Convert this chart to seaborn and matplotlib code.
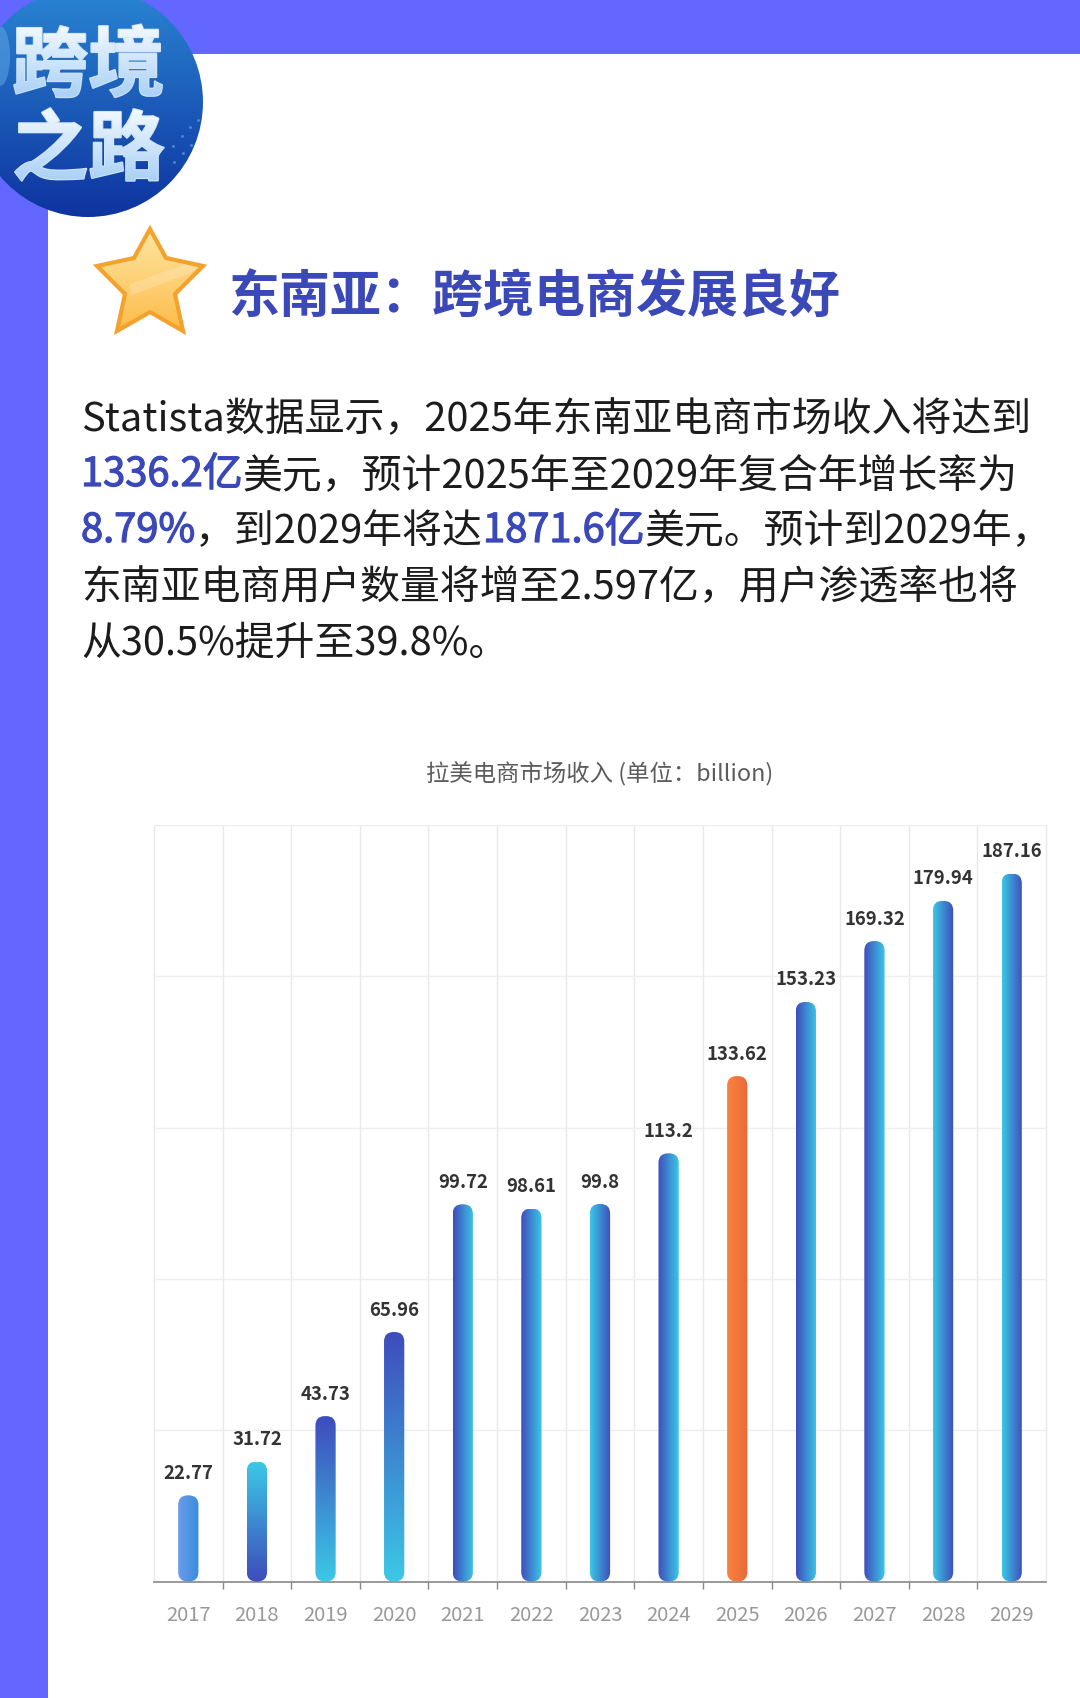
import numpy as np
import pandas as pd
import seaborn as sns
import matplotlib.pyplot as plt
import matplotlib.patheffects as pe
from matplotlib.colors import LinearSegmentedColormap
from matplotlib.font_manager import FontProperties
from matplotlib.patches import Circle, Ellipse, FancyBboxPatch, PathPatch, Polygon, Rectangle
from matplotlib.textpath import TextPath
from matplotlib.transforms import Affine2D

years = ["2017", "2018", "2019", "2020", "2021", "2022", "2023",
         "2024", "2025", "2026", "2027", "2028", "2029"]
revenue = [22.77, 31.72, 43.73, 65.96, 99.72, 98.61, 99.8,
           113.2, 133.62, 153.23, 169.32, 179.94, 187.16]
labels = ["22.77", "31.72", "43.73", "65.96", "99.72", "98.61", "99.8",
          "113.2", "133.62", "153.23", "169.32", "179.94", "187.16"]

chart_title = "拉美电商市场收入 (单位：billion)"
heading = "东南亚：跨境电商发展良好"
body = [
    [("Statista数据显示，2025年东南亚电商市场收入将达到", 0)],
    [("1336.2亿", 1), ("美元，预计2025年至2029年复合年增长率为", 0)],
    [("8.79%", 1), ("，到2029年将达", 0), ("1871.6亿", 1), ("美元。预计到2029年，", 0)],
    [("东南亚电商用户数量将增至2.597亿，用户渗透率也将", 0)],
    [("从30.5%提升至39.8%。", 0)],
]

DARK = "#3f4cbc"
CYAN = "#3bc8e6"
# (gradient direction, first colour, second colour) for each bar
bar_fill = [
    ("h", "#6b9cec", "#3a8cdb"), ("v", CYAN, DARK), ("v", DARK, CYAN), ("v", DARK, CYAN),
    ("h", DARK, CYAN), ("h", DARK, CYAN), ("h", CYAN, DARK), ("h", DARK, CYAN),
    ("h", "#fb8240", "#e96a38"), ("h", DARK, CYAN), ("h", DARK, CYAN),
    ("h", CYAN, DARK), ("h", CYAN, DARK),
]

PURPLE = "#6366ff"
TITLE_BLUE = "#3b48b8"
CJK = ["Noto Sans CJK SC", "DejaVu Sans"]

sns.set_theme(style="white")
plt.rcParams["font.family"] = CJK

W, H = 1080, 1699
fig = plt.figure(figsize=(W / 100, H / 100), dpi=100, facecolor="white")


def gradient(ax, extent, c0, c1, direction, clip, zorder=3):
    cmap = LinearSegmentedColormap.from_list("g", [c0, c1])
    ramp = np.linspace(0, 1, 128)
    ramp = ramp.reshape(1, -1) if direction == "h" else ramp.reshape(-1, 1)
    im = ax.imshow(ramp, extent=extent, origin="upper", aspect="auto", cmap=cmap,
                   vmin=0, vmax=1, zorder=zorder, interpolation="bilinear")
    im.set_clip_path(clip)
    return im


# page decoration, in pixels
bg = fig.add_axes([0, 0, 1, 1], zorder=0)
bg.set_xlim(0, W)
bg.set_ylim(H, 0)
bg.axis("off")
bg.add_patch(Rectangle((0, 0), W, 55, color=PURPLE, lw=0))
bg.add_patch(Rectangle((0, 0), 48, H, color=PURPLE, lw=0))

circle = Circle((88, 103), 115, fc="none", ec="none")
bg.add_patch(circle)
gradient(bg, (-30, 210, 220, -15), "#2a86d4", "#0e339f", "v", circle)
glow = Ellipse((0, 57), 20, 60, fc="#5b9fe0", ec="none", alpha=0.6, zorder=4)
bg.add_patch(glow)
glow.set_clip_path(circle)
bg.scatter([173, 182, 190, 198, 183, 191, 174], [147, 137, 128, 121, 154, 146, 163],
           s=5, color="#5fa8e8", alpha=0.6, lw=0, zorder=4)

# the badge text: real text with a pale vertical gradient laid on its own outline
badge_size = 55
badge_prop = FontProperties(family="Noto Sans CJK SC", weight="bold", size=badge_size)
for txt, base in [("跨境", 91), ("之路", 175)]:
    bg.text(12, base, txt, fontproperties=badge_prop, color="#cfe5fa", ha="left", va="baseline",
            zorder=5, path_effects=[pe.withStroke(linewidth=1.5, foreground="#cfe5fa")])
    outline = TextPath((0, 0), txt, size=badge_size * 100 / 72, prop=badge_prop)
    shape = PathPatch(outline, fc="none", ec="none",
                      transform=Affine2D().scale(1, -1).translate(12, base) + bg.transData)
    bg.add_patch(shape)
    gradient(bg, (0, 200, base + 8, base - 66), "#f4faff", "#a8d0f6", "v", shape, zorder=6)

star_pts = [(150, 230), (166, 259), (203, 267), (175, 295), (183, 332),
            (150, 313), (117, 332), (125, 295), (97, 267), (134, 259)]
star = Polygon(star_pts, closed=True, fc="none", ec="#f4a22e", lw=3, joinstyle="miter", zorder=7)
bg.add_patch(star)
gradient(bg, (95, 205, 333, 230), "#fde6a4", "#fdbb48", "v", star, zorder=6)
streak = Polygon([(130, 285), (195, 262), (195, 272), (130, 297)], closed=True,
                 fc="white", ec="none", alpha=0.2, zorder=6)
bg.add_patch(streak)
streak.set_clip_path(star)

bg.text(228, 297, heading, fontsize=36.7, fontweight="bold", color=TITLE_BLUE,
        ha="left", va="center")

# body text, runs placed one after another
renderer = fig.canvas.get_renderer()
for i, runs in enumerate(body):
    x = 81
    y = 420 + i * 56
    for txt, strong in runs:
        t = bg.text(x, y, txt, fontsize=28.7, va="center", ha="left",
                    color=TITLE_BLUE if strong else "#1c1c1c")
        if strong:
            t.set_path_effects([pe.withStroke(linewidth=0.9, foreground=TITLE_BLUE)])
        x = t.get_window_extent(renderer).x1

bg.text(600, 774, chart_title, fontsize=16.8, color="#5c5c5c", ha="center", va="center")

# the chart
ax = fig.add_axes([154 / W, 1 - 1582.5 / H, (1046 - 154) / W, (1582.5 - 826) / H], zorder=1)
ax.patch.set_alpha(0)
df = pd.DataFrame({"year": years, "revenue": revenue})
sns.barplot(data=df, x="year", y="revenue", width=0.295, color="white", ax=ax, zorder=3)

ax.set_xlim(-0.5, len(years) - 0.5)
ax.set_ylim(0, 200)
ax.set_xlabel("")
ax.set_ylabel("")
ax.set_yticks(np.arange(0, 201, 40))
ax.set_yticklabels([])
ax.set_xticks(np.arange(0.5, len(years) - 1), minor=True)
ax.grid(True, axis="y", color="#eeeeee", lw=1)
ax.grid(True, axis="x", which="minor", color="#e9e9e9", lw=1)
ax.grid(False, axis="x", which="major")
ax.axvline(-0.5, color="#e9e9e9", lw=1, zorder=0.5, clip_on=False)
ax.axvline(len(years) - 0.5, color="#e9e9e9", lw=1, zorder=0.5, clip_on=False)
ax.tick_params(axis="y", length=0)
ax.tick_params(axis="x", which="major", length=0, pad=16, labelsize=14.5, labelcolor="#999999")
ax.tick_params(axis="x", which="minor", length=5, width=1, color="#888888", bottom=True)
for side in ["top", "right", "left"]:
    ax.spines[side].set_visible(False)
ax.spines["bottom"].set_color("#888888")
ax.spines["bottom"].set_linewidth(1.2)
ax.set_axisbelow(True)

x_px = ax.transData.transform((1, 0))[0] - ax.transData.transform((0, 0))[0]
y_px = ax.transData.transform((0, 1))[1] - ax.transData.transform((0, 0))[1]
aspect = x_px / y_px
radius_px = 9.5

for bar, (direction, c0, c1), lab in zip(ax.patches, bar_fill, labels):
    x0, w, h = bar.get_x(), bar.get_width(), bar.get_height()
    bar.set_facecolor("none")
    bar.set_edgecolor("none")
    shape = FancyBboxPatch((x0, 0), w, h, mutation_aspect=aspect, fc="none", ec="none",
                           boxstyle=f"round,pad=0,rounding_size={radius_px / x_px}", zorder=3)
    ax.add_patch(shape)
    gradient(ax, (x0, x0 + w, 0, h), c0, c1, direction, shape)
    ax.annotate(lab, (x0 + w / 2, h), xytext=(0, 16.5), textcoords="offset points", ha="center",
                va="center", fontsize=13.4, fontweight="bold", color="#333333", zorder=5,
                annotation_clip=False)

ax.set_xlim(-0.5, len(years) - 0.5)
ax.set_ylim(0, 200)

fig.savefig("out.png", dpi=100)
